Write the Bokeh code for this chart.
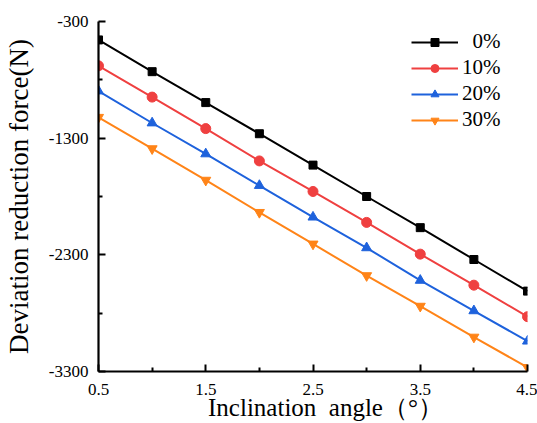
from bokeh.plotting import figure
from bokeh.models import FixedTicker, Legend, LegendItem, CustomJSTickFormatter
from bokeh.embed import file_html
from bokeh.resources import INLINE

angle = [0.5, 1.0, 1.5, 2.0, 2.5, 3.0, 3.5, 4.0, 4.5]
s0 = [-458, -730, -995, -1262, -1531, -1800, -2067, -2340, -2611]
s10 = [-680, -948, -1218, -1495, -1757, -2022, -2294, -2560, -2830]
s20 = [-896, -1170, -1435, -1706, -1977, -2240, -2519, -2780, -3040]
s30 = [-1121, -1390, -1660, -1936, -2207, -2478, -2740, -3005, -3265]
labels = ["\u20070%", "10%", "20%", "30%"]
colors = ["#000000", "#EF4040", "#1E62DC", "#FF8418"]
markers = ["square", "circle", "triangle", "inverted_triangle"]
x_ticks = [0.5, 1.5, 2.5, 3.5, 4.5]
x_minor = [1.0, 2.0, 3.0, 4.0]
y_ticks = [-3300, -2300, -1300, -300]
y_minor = [-2800, -1800, -800]

FONT = "Liberation Serif"

p = figure(width=537, height=423, output_backend="svg", toolbar_location=None,
           x_range=(0.5, 4.5), y_range=(-3300, -300),
           min_border_left=96, min_border_right=10, min_border_top=21, min_border_bottom=20)
p.outline_line_color = None
p.grid.visible = False
p.background_fill_color = "white"

for ax in (p.xaxis[0], p.yaxis[0]):
    ax.axis_line_width = 2.2
    ax.major_tick_line_width = 2
    ax.minor_tick_line_width = 2
    ax.major_tick_in = 7
    ax.major_tick_out = 0
    ax.minor_tick_in = 4
    ax.minor_tick_out = 0
    ax.major_label_text_font = FONT
    ax.major_label_text_font_size = "17px"
    ax.major_label_text_color = "#000000"
    ax.axis_label_text_font = FONT
    ax.axis_label_text_font_style = "normal"
    ax.axis_label_text_font_size = "25px"
    ax.axis_label_text_color = "#000000"

p.yaxis[0].axis_label_text_font_size = "27px"
p.xaxis[0].ticker = FixedTicker(ticks=x_ticks, minor_ticks=x_minor)
p.yaxis[0].ticker = FixedTicker(ticks=y_ticks, minor_ticks=y_minor)
p.xaxis[0].formatter = CustomJSTickFormatter(code="return tick.toFixed(1);")
p.yaxis[0].formatter = CustomJSTickFormatter(code="return tick.toFixed(0);")
p.xaxis[0].axis_label = "\u00a0\u00a0\u00a0\u00a0Inclination\u00a0\u00a0angle\uff08\u00b0\uff09"
p.yaxis[0].axis_label = "Deviation reduction force(N)"
p.xaxis[0].major_label_standoff = 12
p.yaxis[0].major_label_standoff = 10
p.xaxis[0].axis_label_standoff = -4
p.yaxis[0].axis_label_standoff = 12

items = []
for ys, lab, c, m in zip([s0, s10, s20, s30], labels, colors, markers):
    r1 = p.line(angle, ys, line_color=c, line_width=2)
    r2 = p.scatter(angle, ys, marker=m, size=10 if m != "square" else 8,
                   fill_color=c, line_color=c)
    items.append(LegendItem(label=lab, renderers=[r1, r2]))

legend = Legend(items=items, location=(313, 239))
legend.border_line_alpha = 0
legend.background_fill_alpha = 0
legend.padding = 0
legend.spacing = 1
legend.glyph_width = 47
legend.glyph_height = 20
legend.label_height = 20
legend.label_standoff = 4
legend.label_text_font = FONT
legend.label_text_font_size = "21px"
legend.label_text_color = "#000000"
p.add_layout(legend)

open("out.html", "w").write(file_html(p, INLINE))
